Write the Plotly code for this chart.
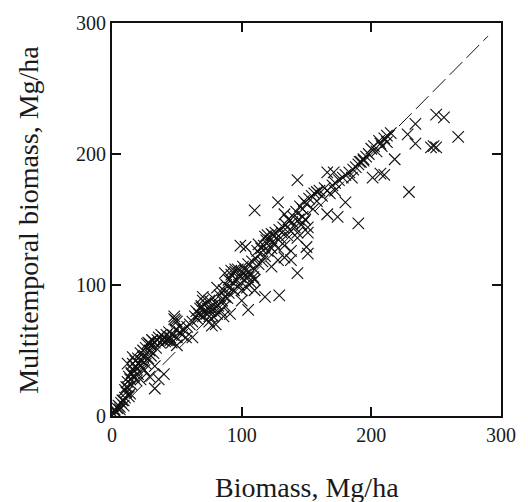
import plotly.graph_objects as go

# ---- data ----
low_x = [1, 2, 3, 4, 5, 6, 7, 8, 9, 10, 10, 11, 12, 12, 13, 13, 14, 15, 15, 16,
         16, 17, 18, 18, 19, 20, 20, 21, 22, 22, 23, 24, 24, 25, 26, 26, 27, 28, 28, 29,
         30, 30, 31, 32, 33, 34, 35, 36, 37, 38, 39, 40, 41, 42, 43, 44, 45, 46, 47, 48,
         49, 50, 50, 52, 54, 55, 57, 58]
low_y = [2, 4, 3, 6, 8, 5, 10, 12, 8, 14, 20, 18, 22, 26, 30, 15, 28, 33, 24, 35,
         40, 30, 38, 42, 36, 44, 32, 40, 48, 38, 42, 50, 36, 46, 52, 40, 55, 44, 56, 50,
         54, 46, 58, 48, 56, 52, 58, 60, 56, 62, 58, 60, 57, 62, 58, 64, 60, 56, 62, 74,
         66, 72, 60, 64, 62, 66, 60, 68]

low_out_x = [24, 33, 40, 33, 18, 15, 16, 12, 19, 14, 9, 6, 11, 2, 31, 29, 45, 42, 50, 52,
             48, 49, 62, 36, 25, 29, 22]
low_out_y = [45, 38, 32, 21, 38, 32, 45, 40, 27, 17, 12, 7, 22, 5, 58, 55, 58, 58, 54, 68,
             76, 73, 60, 28, 35, 30, 28]

mid_x = [60, 62, 64, 65, 66, 67, 68, 69, 70, 70, 71, 72, 73, 74, 75, 75, 76, 77, 78, 78,
         79, 80, 80, 81, 82, 83, 84, 85, 86, 86, 87, 88, 89, 90, 90, 91, 92, 93, 94, 95,
         96, 97, 98, 99, 100, 100, 101, 102, 103, 104, 105, 106, 107, 108, 109, 110, 110]
mid_y = [70, 72, 76, 80, 74, 78, 82, 84, 76, 88, 80, 86, 78, 82, 88, 72, 80, 84, 90, 76,
         82, 86, 70, 78, 84, 92, 80, 88, 96, 76, 84, 100, 90, 94, 104, 98, 108, 102, 96, 110,
         104, 112, 100, 106, 110, 96, 114, 104, 108, 98, 116, 110, 102, 118, 106, 112, 96]

mid_out_x = [77, 70, 69, 67, 75, 81, 87, 91, 87, 92, 95, 103, 105, 110, 100, 105, 118, 129,
             99, 103, 113]
mid_out_y = [69, 91, 83, 78, 76, 98, 91, 78, 109, 111, 112, 111, 106, 104, 88, 81, 91, 92,
             130, 129, 131]

upmid_x = [111, 112, 113, 114, 115, 116, 117, 118, 119, 120, 120, 121, 122, 123, 124, 125,
           126, 127, 128, 129, 130, 131, 132, 133, 134, 135, 136, 137, 138, 139, 140, 141,
           142, 143, 144, 145, 146, 147, 148, 149, 150, 151, 152, 154, 155, 156, 158, 160]
upmid_y = [120, 126, 116, 124, 128, 118, 130, 122, 134, 126, 138, 130, 134, 128, 138, 132,
           140, 136, 128, 142, 136, 140, 144, 130, 146, 138, 150, 142, 126, 148, 152, 144,
           156, 136, 150, 160, 146, 158, 164, 150, 162, 140, 166, 168, 158, 170, 164, 172]

upmid_out_x = [123, 118, 128, 123, 133, 138, 143, 151, 150, 143, 151, 147, 133, 128, 110,
               143, 158, 166, 171, 172, 166, 174, 180, 185, 190]
upmid_out_y = [139, 137, 119, 114, 121, 119, 109, 124, 129, 140, 144, 152, 154, 163, 157,
               180, 171, 186, 186, 172, 154, 152, 163, 182, 147]

high_x = [162, 164, 166, 168, 170, 172, 175, 178, 180, 183, 186, 188, 190, 192, 194, 196,
          198, 200, 202, 204, 206, 208, 210, 212, 215]
high_y = [168, 174, 172, 170, 176, 178, 180, 182, 184, 186, 188, 190, 192, 194, 196, 198,
          200, 204, 206, 202, 210, 206, 212, 214, 216]

high_out_x = [191, 194, 201, 210, 207, 207, 212, 218, 229, 228, 234, 234, 250, 256, 246,
              248, 250, 267]
high_out_y = [194, 195, 182, 184, 185, 208, 209, 196, 171, 215, 208, 223, 230, 228, 205,
              206, 205, 213]

ref_line = [0, 290]
tick_vals = [0, 100, 200, 300]
tick_text = ["0", "100", "200", "300"]
x_title = "Biomass, Mg/ha"
y_title = "Multitemporal biomass, Mg/ha"

biomass = low_x + low_out_x + mid_x + mid_out_x + upmid_x + upmid_out_x + high_x + high_out_x
multitemporal = low_y + low_out_y + mid_y + mid_out_y + upmid_y + upmid_out_y + high_y + high_out_y

FONT = "Liberation Serif, Times New Roman, serif"

fig = go.Figure()
fig.add_trace(go.Scatter(
    x=ref_line, y=ref_line, mode="lines",
    line=dict(color="#111111", width=1, dash="18px,6px"),
    hoverinfo="skip", showlegend=False))
fig.add_trace(go.Scatter(
    x=biomass, y=multitemporal, mode="markers",
    marker=dict(symbol="x-thin", size=11.5, color="#111111",
                line=dict(width=1.1, color="#111111")),
    showlegend=False))

axis_common = dict(
    range=[0, 300], tickvals=tick_vals, ticktext=tick_text,
    ticks="inside", ticklen=9, tickwidth=1.5, tickcolor="#111111",
    showline=True, linewidth=2, linecolor="#111111", mirror="ticks",
    showgrid=False, zeroline=False,
    tickfont=dict(family=FONT, size=20, color="#1a1a1a"),
)

fig.update_layout(
    width=528, height=502,
    margin=dict(l=112, r=22, t=22, b=86),
    paper_bgcolor="white", plot_bgcolor="white",
    xaxis=axis_common, yaxis=axis_common,
    annotations=[
        dict(text=x_title, xref="paper", yref="paper", x=0.5, y=-0.183,
             xanchor="center", yanchor="middle", showarrow=False,
             font=dict(family=FONT, size=28, color="#1a1a1a")),
        dict(text=y_title, xref="paper", yref="paper", x=-0.215, y=0.5,
             xanchor="center", yanchor="middle", showarrow=False, textangle=-90,
             font=dict(family=FONT, size=28, color="#1a1a1a")),
    ],
)

fig.write_html("out.html", config={"displayModeBar": False},
               post_script="document.body.style.margin='0';document.body.style.overflow='hidden';")
